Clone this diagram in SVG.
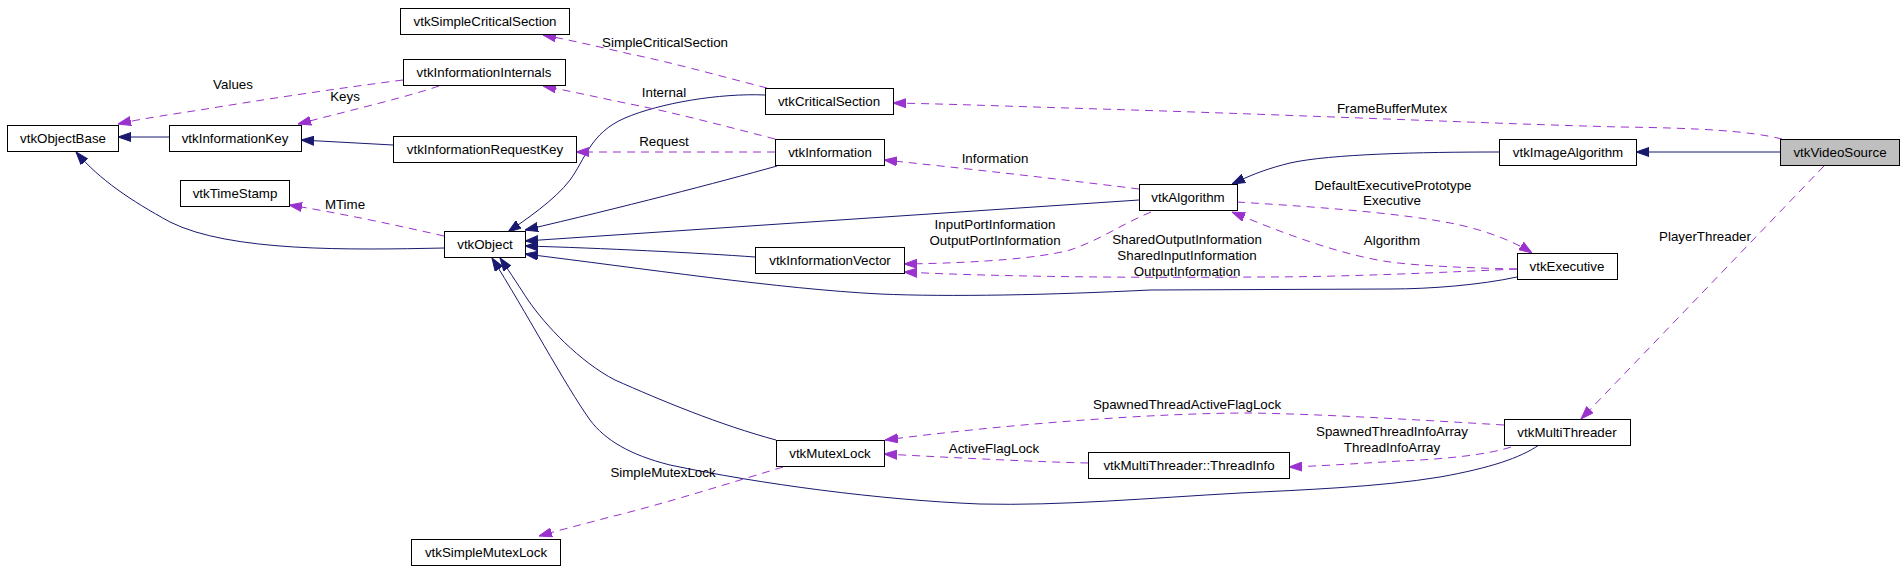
<svg xmlns="http://www.w3.org/2000/svg" width="1904" height="581" viewBox="0 0 1904 581">
<defs>
<marker id="ab" viewBox="0 0 13 10" refX="13" refY="5" markerWidth="13" markerHeight="10" markerUnits="userSpaceOnUse" orient="auto"><path d="M0,0.5L13,5L0,9.5z" fill="#191970" stroke="#191970" stroke-width="1"/></marker>
<marker id="ap" viewBox="0 0 13 10" refX="13" refY="5" markerWidth="13" markerHeight="10" markerUnits="userSpaceOnUse" orient="auto"><path d="M0,0.5L13,5L0,9.5z" fill="#9a32cd" stroke="#9a32cd" stroke-width="1"/></marker>
</defs>
<style>
.n rect{fill:#ffffff;stroke:#000000;stroke-width:1}
.n text,.lb{font-family:"Liberation Sans",Arial,sans-serif;font-size:13.33px;fill:#000000;text-anchor:middle}
.s{fill:none;stroke:#191970;stroke-width:1;marker-end:url(#ab)}
.d{fill:none;stroke:#9a32cd;stroke-width:1;stroke-dasharray:8,6;marker-end:url(#ap)}
</style>
<rect width="1904" height="581" fill="#ffffff"/>
<g id="edges">
<path class="s" d="M169,137 L118,137"/>
<path class="s" d="M393,145 L301,140"/>
<path class="s" d="M444,248 C 350,250 230,252 170,222 C 130,200 100,180 76,152"/>
<path class="s" d="M765,95 C 720,93 660,103 625,118 C 590,133 585,160 570,180 C 555,200 525,220 508,232"/>
<path class="s" d="M777,166 C 720,182 620,208 525,230"/>
<path class="s" d="M1139,200 L525,241"/>
<path class="s" d="M755,257 C 700,253 600,248 525,246"/>
<path class="s" d="M1517,277 C 1480,285 1430,289 1390,289 L1150,290 C 1050,295 950,297 880,294 C 780,289 640,268 525,254"/>
<path class="s" d="M776,440 C 720,425 660,400 615,380 C 580,362 545,325 528,300 C 520,288 512,275 500,258"/>
<path class="s" d="M1539,445 C 1520,458 1490,468 1440,477 C 1380,487 1300,490 1240,493 C 1150,498 1060,506 980,504 C 880,500 760,484 670,465 C 630,455 605,440 590,420 C 565,385 525,310 492,258"/>
<path class="s" d="M1780,152 L1636,152"/>
<path class="s" d="M1499,152 C 1420,152 1330,154 1290,163 C 1270,168 1255,173 1232,184"/>

<path class="d" d="M767,88 C 720,76 670,62 630,54 C 600,47 570,40 543,35"/>
<text class="lb" x="665" y="47">SimpleCriticalSection</text>
<path class="d" d="M775,139 C 740,130 680,114 640,106 C 600,98 570,91 543,86"/>
<text class="lb" x="664" y="97">Internal</text>
<path class="d" d="M403,80 C 340,88 260,100 200,110 C 160,116 135,120 118,124"/>
<text class="lb" x="233" y="89">Values</text>
<path class="d" d="M439,86 C 410,96 360,108 298,124"/>
<text class="lb" x="345" y="101">Keys</text>
<path class="d" d="M775,152 L576,152"/>
<text class="lb" x="664" y="146">Request</text>
<path class="d" d="M444,236 C 400,226 340,213 289,205"/>
<text class="lb" x="345" y="209">MTime</text>
<path class="d" d="M1139,189 C 1090,183 1000,172 884,160"/>
<text class="lb" x="995" y="163">Information</text>
<path class="d" d="M1151,212 C 1120,225 1100,240 1070,250 C 1040,258 980,263 904,264"/>
<text class="lb" x="995" y="229">InputPortInformation</text>
<text class="lb" x="995" y="245">OutputPortInformation</text>
<path class="d" d="M1517,269 C 1450,272 1350,277 1260,277 C 1150,278 1000,277 904,272"/>
<text class="lb" x="1187" y="244">SharedOutputInformation</text>
<text class="lb" x="1187" y="260">SharedInputInformation</text>
<text class="lb" x="1187" y="276">OutputInformation</text>
<path class="d" d="M1517,269 C 1470,268 1420,266 1390,262 C 1340,255 1280,232 1232,212"/>
<text class="lb" x="1392" y="245">Algorithm</text>
<path class="d" d="M1237,202 C 1300,206 1400,212 1460,225 C 1490,232 1515,242 1532,253"/>
<text class="lb" x="1393" y="190">DefaultExecutivePrototype</text>
<text class="lb" x="1392" y="205">Executive</text>
<path class="d" d="M1782,139 C 1750,131 1700,128 1620,127 C 1500,124 1300,115 1100,109 C 1000,106 950,104 893,103"/>
<text class="lb" x="1392" y="113">FrameBufferMutex</text>
<path class="d" d="M1824,166 L1581,419"/>
<text class="lb" x="1705" y="241">PlayerThreader</text>
<path class="d" d="M1504,425 C 1420,420 1320,414 1250,413 C 1150,413 1000,425 885,440"/>
<text class="lb" x="1187" y="409">SpawnedThreadActiveFlagLock</text>
<path class="d" d="M1511,447 C 1490,454 1450,459 1400,461 C 1350,464 1320,466 1289,467"/>
<text class="lb" x="1392" y="436">SpawnedThreadInfoArray</text>
<text class="lb" x="1392" y="452">ThreadInfoArray</text>
<path class="d" d="M1088,463 C 1040,462 960,458 884,454"/>
<text class="lb" x="994" y="453">ActiveFlagLock</text>
<path class="d" d="M783,467 C 740,480 660,505 610,517 C 580,525 560,530 539,536"/>
<text class="lb" x="663" y="477">SimpleMutexLock</text>
</g>
<g id="node-vtkVideoSource" class="n"><rect x="1780.5" y="139.5" width="119" height="26" style="fill:#bfbfbf"/><text x="1840" y="157">vtkVideoSource</text></g>
<g id="node-vtkImageAlgorithm" class="n"><rect x="1499.5" y="139.5" width="137" height="26"/><text x="1568" y="157">vtkImageAlgorithm</text></g>
<g id="node-vtkAlgorithm" class="n"><rect x="1139.5" y="184.5" width="98" height="26"/><text x="1188" y="202">vtkAlgorithm</text></g>
<g id="node-vtkObject" class="n"><rect x="444.5" y="231.5" width="81" height="26"/><text x="485" y="249">vtkObject</text></g>
<g id="node-vtkObjectBase" class="n"><rect x="7.5" y="125.5" width="111" height="26"/><text x="63" y="143">vtkObjectBase</text></g>
<g id="node-vtkInformationKey" class="n"><rect x="169.5" y="125.5" width="132" height="26"/><text x="235" y="143">vtkInformationKey</text></g>
<g id="node-vtkInformationRequestKey" class="n"><rect x="393.5" y="136.5" width="183" height="26"/><text x="485" y="154">vtkInformationRequestKey</text></g>
<g id="node-vtkInformationInternals" class="n"><rect x="403.5" y="59.5" width="162" height="26"/><text x="484" y="77">vtkInformationInternals</text></g>
<g id="node-vtkSimpleCriticalSection" class="n"><rect x="400.5" y="8.5" width="169" height="26"/><text x="485" y="26">vtkSimpleCriticalSection</text></g>
<g id="node-vtkCriticalSection" class="n"><rect x="765.5" y="88.5" width="128" height="26"/><text x="829" y="106">vtkCriticalSection</text></g>
<g id="node-vtkInformation" class="n"><rect x="775.5" y="139.5" width="109" height="26"/><text x="830" y="157">vtkInformation</text></g>
<g id="node-vtkTimeStamp" class="n"><rect x="180.5" y="180.5" width="109" height="26"/><text x="235" y="198">vtkTimeStamp</text></g>
<g id="node-vtkInformationVector" class="n"><rect x="755.5" y="247.5" width="149" height="26"/><text x="830" y="265">vtkInformationVector</text></g>
<g id="node-vtkExecutive" class="n"><rect x="1517.5" y="253.5" width="100" height="26"/><text x="1567" y="271">vtkExecutive</text></g>
<g id="node-vtkMutexLock" class="n"><rect x="776.5" y="440.5" width="108" height="26"/><text x="830" y="458">vtkMutexLock</text></g>
<g id="node-vtkMultiThreader-ThreadInfo" class="n"><rect x="1088.5" y="452.5" width="201" height="26"/><text x="1189" y="470">vtkMultiThreader::ThreadInfo</text></g>
<g id="node-vtkMultiThreader" class="n"><rect x="1504.5" y="419.5" width="126" height="26"/><text x="1567" y="437">vtkMultiThreader</text></g>
<g id="node-vtkSimpleMutexLock" class="n"><rect x="411.5" y="539.5" width="149" height="26"/><text x="486" y="557">vtkSimpleMutexLock</text></g>
</svg>
